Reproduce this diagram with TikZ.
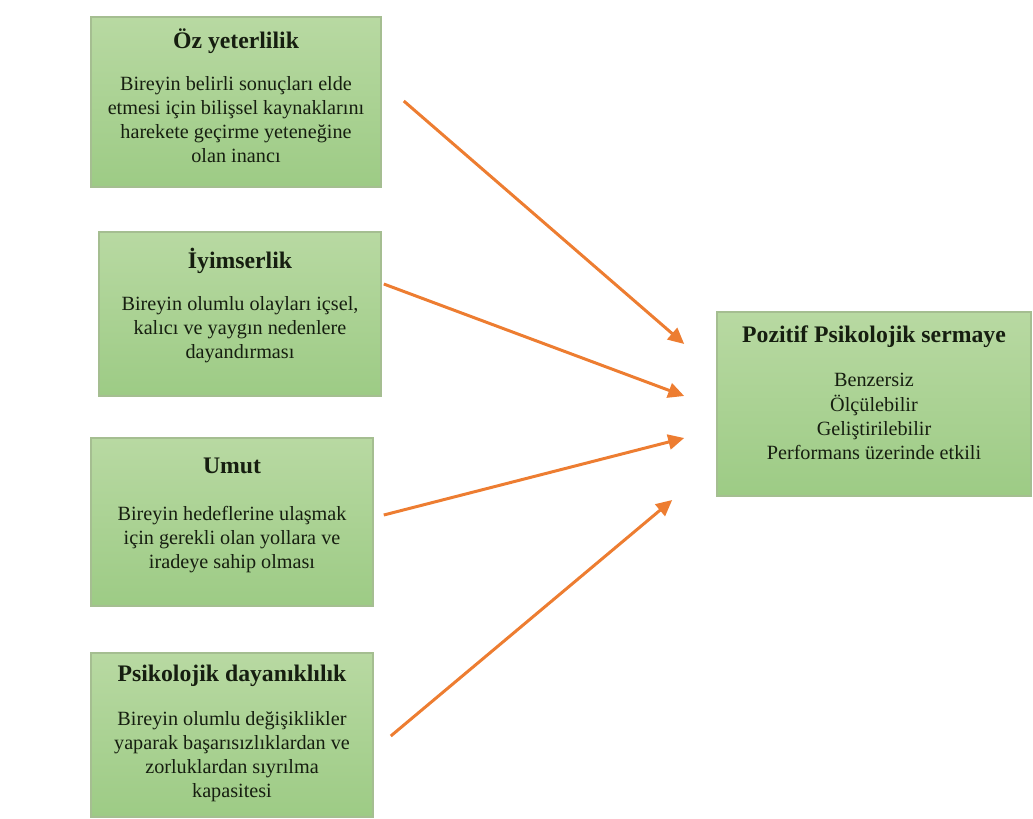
\documentclass[tikz,border=0pt]{standalone}
\usepackage{fontspec}
\setmainfont{Liberation Serif}
\usetikzlibrary{positioning, arrows.meta, calc}

\definecolor{boxtop}{RGB}{184,217,162}
\definecolor{boxbottom}{RGB}{157,203,133}
\definecolor{boxline}{RGB}{165,190,145}
\definecolor{arroworange}{RGB}{237,125,49}
\definecolor{textdark}{RGB}{22,30,16}

\begin{document}
\begin{tikzpicture}[
    arrow/.style={
        -{Triangle[length=0.32cm, width=0.3cm]},
        line width=1.7pt,
        draw=arroworange
    },
    factor_box/.style={
        rectangle,
        top color=boxtop,
        bottom color=boxbottom,
        draw=boxline,
        line width=0.9pt,
        inner sep=0pt
    },
    title_text/.style={
        inner sep=0pt,
        text=textdark,
        font=\fontsize{13.5}{16}\selectfont\bfseries
    },
    body_text/.style={
        inner sep=0pt,
        align=center,
        text=textdark,
        font=\fontsize{11.5}{13.7}\selectfont
    }
]

    \useasboundingbox (0,0) rectangle (20.66,-16.36);

    % Left column, 1st box
    \node[factor_box, minimum width=5.8cm, minimum height=3.4cm] (oz) at (4.72,-2.04) {};
    \node[title_text, anchor=base] (ozT) at ([yshift=-0.64cm]oz.north) {Öz yeterlilik};
    \node[body_text, below=0.56cm of ozT.base] (ozB) {Bireyin belirli sonuçları elde\\etmesi için bilişsel kaynaklarını\\harekete geçirme yeteneğine\\olan inancı};

    % Left column, 2nd box
    \node[factor_box, minimum width=5.64cm, minimum height=3.28cm] (iyim) at (4.8,-6.28) {};
    \node[title_text, anchor=base] (iyimT) at ([yshift=-0.74cm]iyim.north) {İyimserlik};
    \node[body_text, below=0.56cm of iyimT.base] (iyimB) {Bireyin olumlu olayları içsel,\\kalıcı ve yaygın nedenlere\\dayandırması};

    % Left column, 3rd box
    \node[factor_box, minimum width=5.64cm, minimum height=3.36cm] (umut) at (4.64,-10.44) {};
    \node[title_text, anchor=base] (umutT) at ([yshift=-0.72cm]umut.north) {Umut};
    \node[body_text, below=0.66cm of umutT.base] (umutB) {Bireyin hedeflerine ulaşmak\\için gerekli olan yollara ve\\iradeye sahip olması};

    % Left column, 4th box
    \node[factor_box, minimum width=5.64cm, minimum height=3.28cm] (psi) at (4.64,-14.7) {};
    \node[title_text, anchor=base] (psiT) at ([yshift=-0.58cm]psi.north) {Psikolojik dayanıklılık};
    \node[body_text, below=0.6cm of psiT.base] (psiB) {Bireyin olumlu değişiklikler\\yaparak başarısızlıklardan ve\\zorluklardan sıyrılma\\kapasitesi};

    % Right box
    \node[factor_box, minimum width=6.28cm, minimum height=3.68cm] (pos) at (17.48,-8.08) {};
    \node[title_text, anchor=base] (posT) at ([yshift=-0.62cm]pos.north) {Pozitif Psikolojik sermaye};
    \node[body_text, below=0.62cm of posT.base] (posB) {Benzersiz\\Ölçülebilir\\Geliştirilebilir\\Performans üzerinde etkili};

    % free arrow ends
    \coordinate (s1) at ([shift={(0.44,0.02)}]oz.east);
    \coordinate (s2) at ([shift={(0.04,0.6)}]iyim.east);
    \coordinate (s3) at ([shift={(0.2,0.14)}]umut.east);
    \coordinate (s4) at ([shift={(0.34,-0.02)}]psi.east);
    \coordinate (e1) at ([shift={(-0.64,1.2)}]pos.west);
    \coordinate (e2) at ([shift={(-0.64,0.16)}]pos.west);
    \coordinate (e3) at ([shift={(-0.64,-0.68)}]pos.west);
    \coordinate (e4) at ([shift={(-0.88,-1.92)}]pos.west);

    \draw[arrow] (s1) -- (e1);
    \draw[arrow] (s2) -- (e2);
    \draw[arrow] (s3) -- (e3);
    \draw[arrow] (s4) -- (e4);

\end{tikzpicture}
\end{document}
